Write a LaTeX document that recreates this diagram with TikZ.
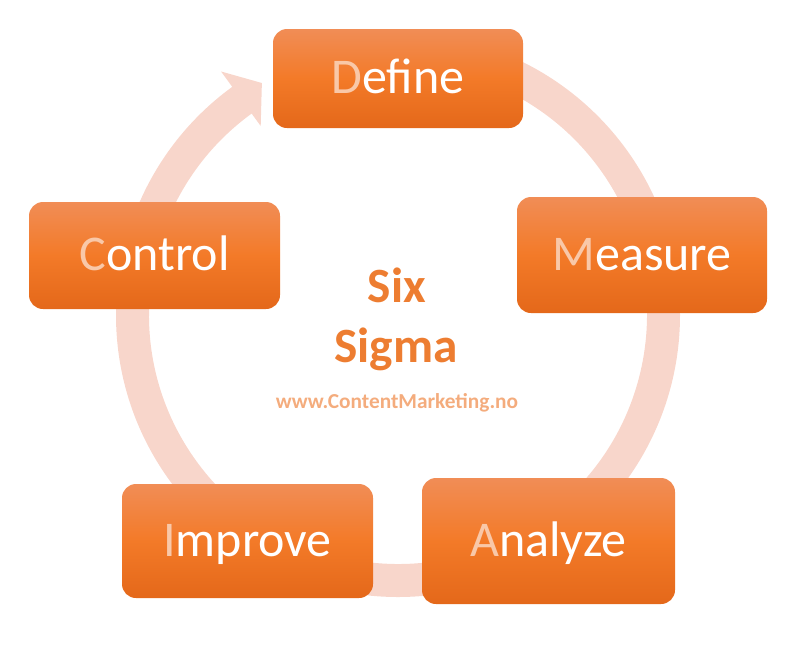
\documentclass[tikz,border=0pt]{standalone}
\usepackage{fontspec}
\setmainfont{Carlito}
\definecolor{ringc}{RGB}{248,214,203}
\definecolor{boxtop}{RGB}{241,141,86}
\definecolor{boxmid}{RGB}{243,122,40}
\definecolor{boxbot}{RGB}{228,104,26}
\definecolor{firstc}{RGB}{249,200,168}
\definecolor{sigmac}{RGB}{237,125,49}
\definecolor{urlc}{RGB}{244,172,125}
\begin{document}
\begin{tikzpicture}[x=0.75pt,y=-0.75pt,
  stagebox/.style={rounded corners=10.5pt, top color=boxtop, bottom color=boxbot, middle color=boxmid,
    inner sep=0pt, text height=22.5pt, text depth=0pt, text=white, font=\fontsize{37.5}{40}\selectfont},
  centertext/.style={anchor=base, text=sigmac, font=\bfseries\fontsize{37}{40}\selectfont},
  urltext/.style={anchor=base, text=urlc, font=\bfseries\fontsize{16}{18}\selectfont}]
\useasboundingbox (0,0) rectangle (800,644);
% cycle ring with arrowhead
\begin{scope}[shift={(398,315)}, x=0.75pt, y=0.75pt]
  \fill[ringc] (90:282) arc[start angle=90, end angle=-234, radius=282]
    -- (-234:301) -- (-239.6:269) -- (-234:233.6) -- (-234:249)
    arc[start angle=-234, end angle=90, radius=249] -- cycle;
\end{scope}
% stages
\node[stagebox, minimum width=187.5pt, minimum height=74.25pt] (define) at (398,78.5) {\textcolor{firstc}{D}efine};
\node[stagebox, minimum width=187.5pt, minimum height=87pt] (measure) at (642,255) {\textcolor{firstc}{M}easure};
\node[stagebox, minimum width=189.75pt, minimum height=94.5pt] (analyze) at (548.5,541) {\textcolor{firstc}{A}nalyze};
\node[stagebox, minimum width=188.25pt, minimum height=85.5pt] (improve) at (247.5,541) {\textcolor{firstc}{I}mprove};
\node[stagebox, minimum width=188.25pt, minimum height=80.25pt] (control) at (154.5,255.5) {\textcolor{firstc}{C}ontrol};
% centre
\node[centertext] (six) at (397,302) {Six};
\node[centertext] (sigma) at (396,362) {Sigma};
\node[urltext] (url) at (397,408) {www.ContentMarketing.no};
\end{tikzpicture}
\end{document}
